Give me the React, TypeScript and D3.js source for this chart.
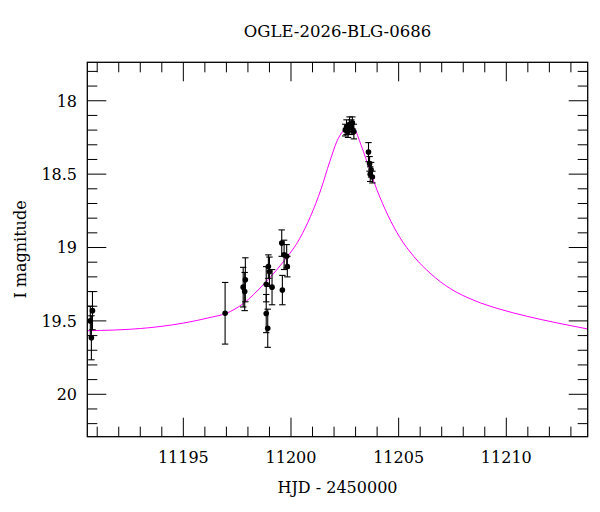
import * as d3 from "d3";

const title = "OGLE-2026-BLG-0686";
const xLabel = "HJD - 2450000";
const yLabel = "I magnitude";

const xDomain = [11190.54, 11213.78];
const yDomain = [17.738, 20.289];
const xTicks = [11195, 11200, 11205, 11210];
const yTicks = [18, 18.5, 19, 19.5, 20];

// OGLE I-band photometry: epoch, magnitude, 1-sigma error
const obsT = [
  11190.78, 11190.68, 11190.73,
  11196.94,
  11197.88, 11197.78, 11197.85,
  11198.95, 11199.0, 11198.85, 11199.12, 11198.85, 11198.92,
  11199.57, 11199.68, 11199.8, 11199.83, 11199.6,
  11202.52, 11202.58, 11202.65, 11202.72, 11202.8, 11202.85, 11202.92,
  11203.6, 11203.65, 11203.72, 11203.68, 11203.78,
];
const obsMag = [
  19.43, 19.5, 19.615,
  19.448,
  19.22, 19.27, 19.3,
  19.13, 19.165, 19.25, 19.27, 19.45, 19.55,
  18.97, 19.05, 19.06, 19.13, 19.29,
  18.2, 18.18, 18.21, 18.16, 18.18, 18.15, 18.21,
  18.35, 18.43, 18.47, 18.5, 18.52,
];
const obsErr = [
  0.13, 0.1, 0.15,
  0.21,
  0.15, 0.135, 0.13,
  0.08, 0.1, 0.12, 0.12, 0.13, 0.13,
  0.09, 0.1, 0.08, 0.07, 0.1,
  0.04, 0.05, 0.04, 0.05, 0.05, 0.04, 0.05,
  0.065, 0.05, 0.05, 0.05, 0.04,
];

// microlensing model, sampled
const modelT = [
  11190.54, 11193.0, 11195.0, 11196.3, 11197.0, 11197.8, 11198.7, 11199.6,
  11200.4, 11200.9, 11201.4, 11201.8, 11202.2, 11202.5, 11202.72, 11202.95,
  11203.25, 11203.7, 11204.0, 11204.5, 11205.05, 11205.7, 11206.5, 11207.4,
  11208.5, 11209.7, 11211.0, 11212.4, 11213.78,
];
const modelMag = [
  19.567, 19.552, 19.515, 19.475, 19.448, 19.38, 19.255, 19.105,
  18.94, 18.79, 18.6, 18.415, 18.255, 18.195, 18.178, 18.195,
  18.3, 18.49, 18.61, 18.78, 18.93, 19.06, 19.18, 19.28,
  19.36, 19.42, 19.47, 19.515, 19.555,
];

const W = 600;
const H = 512;
const M = { left: 87.3, right: 587.7, top: 62.3, bottom: 436.7 };
const font = "DejaVu Serif";

export default function App() {
  const x = d3.scaleLinear().domain(xDomain).range([M.left, M.right]);
  const y = d3.scaleLinear().domain(yDomain).range([M.top, M.bottom]);

  const minorX = d3.range(Math.ceil(xDomain[0]), xDomain[1], 1);
  const minorY = d3.range(17.8, 20.29, 0.1).map((v) => Math.round(v * 10) / 10);
  const isMajorY = (v: number) => Math.abs(v * 2 - Math.round(v * 2)) < 1e-6;

  const line = d3
    .line<number>()
    .x((_, i) => x(modelT[i]))
    .y((d) => y(d))
    .curve(d3.curveMonotoneX);

  const cap = 3.2;

  return (
    <div style={{ position: "absolute", top: 0, left: 0 }}>
      <svg width={W} height={H} style={{ display: "block", background: "#fff" }}>
        <defs>
          <clipPath id="plot">
            <rect x={M.left} y={M.top} width={M.right - M.left} height={M.bottom - M.top} />
          </clipPath>
        </defs>

        <path
          d={line(modelMag) ?? ""}
          fill="none"
          stroke="#ff00ff"
          strokeWidth={1}
          clipPath="url(#plot)"
        />

        <g stroke="#000" strokeWidth={1.1}>
          {obsT.map((t, i) => {
            const cx = x(t);
            const y0 = y(obsMag[i] - obsErr[i]);
            const y1 = y(obsMag[i] + obsErr[i]);
            return (
              <g key={i}>
                <line x1={cx} x2={cx} y1={y0} y2={y1} />
                <line x1={cx - cap} x2={cx + cap} y1={y0} y2={y0} />
                <line x1={cx - cap} x2={cx + cap} y1={y1} y2={y1} />
              </g>
            );
          })}
        </g>
        <g fill="#000">
          {obsT.map((t, i) => (
            <circle key={i} cx={x(t)} cy={y(obsMag[i])} r={2.8} />
          ))}
        </g>

        {/* ticks on all four sides, pointing inward */}
        <g stroke="#000" strokeWidth={1}>
          {minorX.map((v) => {
            const len = v % 5 === 0 ? 19 : 10;
            return (
              <g key={"x" + v}>
                <line x1={x(v)} x2={x(v)} y1={M.bottom} y2={M.bottom - len} />
                <line x1={x(v)} x2={x(v)} y1={M.top} y2={M.top + len} />
              </g>
            );
          })}
          {minorY.map((v) => {
            const len = isMajorY(v) ? 19 : 10;
            return (
              <g key={"y" + v}>
                <line x1={M.left} x2={M.left + len} y1={y(v)} y2={y(v)} />
                <line x1={M.right} x2={M.right - len} y1={y(v)} y2={y(v)} />
              </g>
            );
          })}
        </g>

        <rect
          x={M.left}
          y={M.top}
          width={M.right - M.left}
          height={M.bottom - M.top}
          fill="none"
          stroke="#000"
          strokeWidth={1.3}
        />

        <g fontFamily={font} fontSize={16} fill="#000">
          {xTicks.map((v) => (
            <text key={v} x={x(v)} y={463} textAnchor="middle">
              {v}
            </text>
          ))}
          {yTicks.map((v) => (
            <text key={v} x={77} y={y(v)} dy="0.36em" textAnchor="end">
              {v}
            </text>
          ))}
          <text x={(M.left + M.right) / 2} y={493} textAnchor="middle">
            {xLabel}
          </text>
          <text
            transform={`translate(26,${(M.top + M.bottom) / 2}) rotate(-90)`}
            textAnchor="middle"
          >
            {yLabel}
          </text>
          <text x={(M.left + M.right) / 2} y={37.3} textAnchor="middle" fontSize={16.5}>
            {title}
          </text>
        </g>
      </svg>
    </div>
  );
}
